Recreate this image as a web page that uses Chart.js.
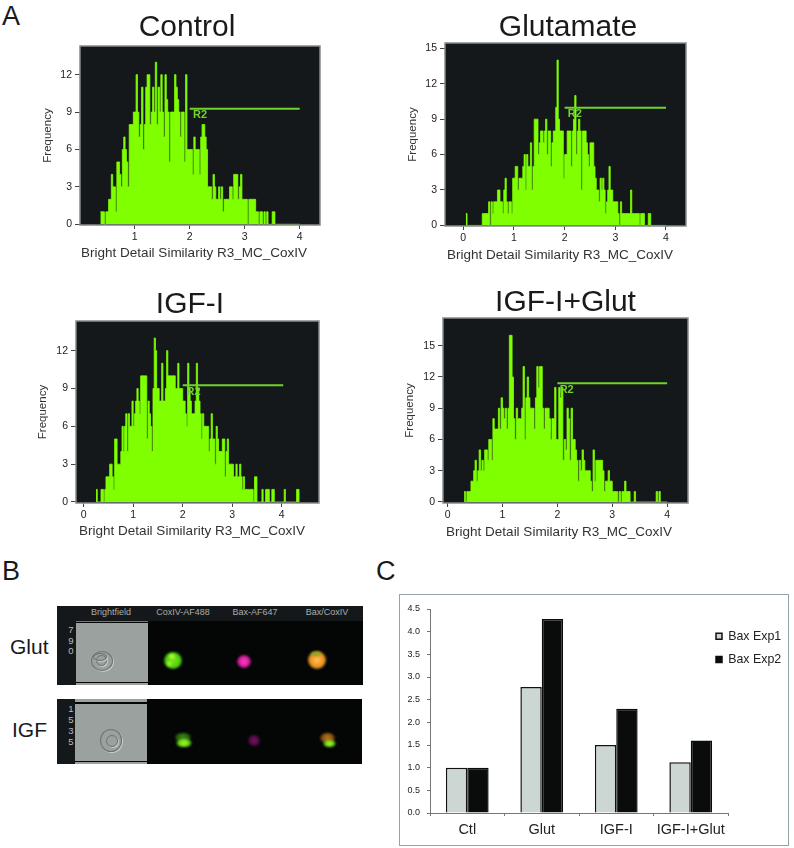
<!DOCTYPE html>
<html>
<head>
<meta charset="utf-8">
<title>Bax figure</title>
<script src="https://cdn.jsdelivr.net/npm/chart.js@4/dist/chart.umd.js"></script>
<style>
    html, body { margin: 0; padding: 0; background: #fff; }
    body { position: relative; width: 794px; height: 848px; overflow: hidden; font-family: "Liberation Sans", Arial, sans-serif; color: #1a1a1a; }
    canvas { position: absolute; }
    .abs { position: absolute; }
    .letter { position: absolute; font-size: 27px; line-height: 30px; }
    .rowLabel { position: absolute; font-size: 21px; line-height: 24px; }
    .strip { position: absolute; background: #040605; }
    .stripHead { position: absolute; background: #15181a; }
    .field { position: absolute; background: #9aa19f; }
    .stain { position: absolute; color: #a9adad; font-size: 9px; line-height: 10px; transform: translateX(-50%); white-space: nowrap; }
    .digit { position: absolute; color: #b9bdbd; font-size: 9.5px; line-height: 10px; transform: translateX(-50%); }
    .spot { position: absolute; border-radius: 50%; filter: blur(1px); }
    .ring { position: absolute; border-radius: 50%; border: 1px solid #6d7472; box-shadow: 1px 1px 0 #c6cbc9; }
    #frameC { position: absolute; left: 399px; top: 594px; width: 388px; height: 250px; border: 1px solid #93a5a8; }
</style>
</head>
<body>

<div class="letter" style="left:2px;top:1px">A</div>
<div class="letter" style="left:2px;top:556px">B</div>
<div class="letter" style="left:376px;top:556px">C</div>

<!-- Panel B, cell images -->
<div class="rowLabel" style="left:10px;top:635px">Glut</div>
<div class="rowLabel" style="left:12px;top:718px">IGF</div>

<div class="strip" style="left:57px;top:606px;width:306px;height:79px"></div>
<div class="stripHead" style="left:57px;top:606px;width:306px;height:15px"></div>
<div class="stripHead" style="left:57px;top:606px;width:19px;height:79px"></div>
<div class="field" style="left:76px;top:623px;width:72px;height:59px"></div>
<div class="abs" style="left:76px;top:621px;width:72px;height:1px;background:#777"></div>
<div class="abs" style="left:76px;top:683px;width:72px;height:2px;background:#9aa19f"></div>
<div class="stain" style="left:111px;top:607px">Brightfield</div>
<div class="stain" style="left:183px;top:607px">CoxIV-AF488</div>
<div class="stain" style="left:255px;top:607px">Bax-AF647</div>
<div class="stain" style="left:327px;top:607px">Bax/CoxIV</div>
<div class="digit" style="left:71px;top:625px">7</div>
<div class="digit" style="left:71px;top:636px">9</div>
<div class="digit" style="left:71px;top:646px">0</div>
<div class="ring" style="left:91px;top:651px;width:20px;height:18px"></div>
<div class="ring" style="left:96px;top:655px;width:9px;height:9px"></div>
<div class="ring" style="left:93px;top:653px;width:12px;height:6px"></div>
<div class="spot" style="left:164px;top:652px;width:18px;height:17px;background:radial-gradient(circle,#7ce818 0,#4fd010 55%,#1c5a08 85%,transparent 100%)"></div>
<div class="spot" style="left:169px;top:654px;width:6px;height:5px;background:#a8f838"></div>
<div class="spot" style="left:167px;top:661px;width:5px;height:5px;background:#98f030"></div>
<div class="spot" style="left:237px;top:655px;width:14px;height:13px;background:radial-gradient(circle,#ff40c0 0,#d81ea0 50%,#5a0c48 85%,transparent 100%)"></div>
<div class="spot" style="left:308px;top:651px;width:18px;height:18px;background:radial-gradient(circle,#ffc850 0,#f08a20 55%,#5a7a10 85%,transparent 100%)"></div>
<div class="spot" style="left:311px;top:652px;width:10px;height:4px;background:#8aa820"></div>

<div class="strip" style="left:57px;top:699px;width:305px;height:65px"></div>
<div class="stripHead" style="left:57px;top:699px;width:18px;height:65px"></div>
<div class="field" style="left:75px;top:699px;width:72px;height:3px"></div>
<div class="field" style="left:75px;top:704px;width:72px;height:57px"></div>
<div class="field" style="left:75px;top:762px;width:72px;height:2px"></div>
<div class="digit" style="left:71px;top:704px">1</div>
<div class="digit" style="left:71px;top:715px">5</div>
<div class="digit" style="left:71px;top:726px">3</div>
<div class="digit" style="left:71px;top:737px">5</div>
<div class="ring" style="left:100px;top:729px;width:20px;height:21px"></div>
<div class="ring" style="left:106px;top:735px;width:10px;height:10px"></div>
<div class="spot" style="left:175px;top:733px;width:16px;height:9px;background:radial-gradient(circle,#3a8a12 0,#255a0c 70%,transparent 100%)"></div>
<div class="spot" style="left:176px;top:739px;width:16px;height:8px;background:radial-gradient(circle,#a0f828 0,#60d012 60%,transparent 100%)"></div>
<div class="spot" style="left:248px;top:735px;width:12px;height:11px;background:radial-gradient(circle,#7a1268 0,#4a0a40 60%,transparent 100%)"></div>
<div class="spot" style="left:320px;top:733px;width:15px;height:10px;background:radial-gradient(circle,#c07818 0,#7a4a10 65%,transparent 100%)"></div>
<div class="spot" style="left:323px;top:740px;width:13px;height:7px;background:radial-gradient(circle,#b0f830 0,#60c812 60%,transparent 100%)"></div>

<div id="frameC"></div>

<canvas id="controlChart"></canvas>
<canvas id="glutamateChart"></canvas>
<canvas id="igfChart"></canvas>
<canvas id="igfGlutChart"></canvas>
<canvas id="baxChart"></canvas>

<script>
let binWidth = 0.025

let controlStart = 0.375
let controlCounts = [1,1,1,0,1,1,2,2,4,3,3,1,5,5,4,3,6,7,6,5,3,8,8,8,9,9,12,9,7,8,11,6,8,11,12,12,8,9,11,9,
    13,8,11,9,12,9,7,12,10,9,5,9,9,9,12,11,10,9,7,9,9,5,12,6,6,6,6,4,7,6,6,6,4,7,8,8,7,6,3,3,
    3,2,4,3,2,2,3,2,3,1,2,2,2,2,3,3,2,4,4,4,2,3,4,2,2,2,2,0,2,2,2,2,2,1,1,0,1,1,0,1,
    0,1,0,0,0,1,1,0,0,0,0,0,0,0,0,0,0,0,0,0,0,0,0,0,0,0]

let glutamateStart = 0.05
let glutamateCounts = [1,0,0,0,0,0,0,0,0,0,0,0,0,1,1,1,1,1,2,0,2,1,2,2,2,3,3,2,2,1,3,4,2,1,2,2,1,4,4,5,
    5,3,4,4,4,5,6,3,6,5,5,7,3,5,9,9,9,6,7,8,8,7,8,9,6,8,8,5,7,8,8,10,14,9,8,8,8,4,6,6,
    8,8,8,5,8,9,11,6,8,9,8,3,8,8,8,7,6,5,7,7,7,5,4,3,3,2,4,3,4,3,1,2,3,5,3,3,2,2,2,2,
    1,0,2,1,1,1,1,1,1,1,3,1,1,1,1,1,1,0,1,1,1,0,0,0,1,1,0,0,0,0,0,0,0,0,0,0,0,0,0]

let igfStart = 0.25
let igfCounts = [1,0,0,0,1,1,0,1,2,2,2,3,3,2,1,5,5,3,3,3,4,6,4,6,7,4,7,6,6,8,6,7,8,9,8,7,10,10,10,10,
    10,5,8,7,6,4,9,13,12,9,9,8,8,11,8,8,9,12,10,10,10,10,10,10,9,9,11,9,9,9,8,8,7,6,11,9,8,7,7,7,
    8,11,9,8,7,5,7,6,6,6,6,4,5,7,5,5,3,6,5,4,4,4,5,5,2,4,5,3,3,3,3,2,2,3,2,2,3,2,1,2,
    1,1,1,1,1,1,1,0,2,2,0,0,0,0,1,0,0,1,1,1,0,0,1,1,0,0,0,0,0,0,0,0,1,0,0,0,0,0,0,0,
    0,0,1,1,0]

let igfGlutStart = 0.3
let igfGlutCounts = [1,0,1,1,1,2,2,3,4,2,3,5,3,4,3,5,5,4,6,6,4,8,7,7,7,9,7,10,9,8,9,7,9,16,16,12,8,6,9,8,
    8,8,9,13,6,10,12,10,9,9,9,7,10,13,11,13,13,9,7,9,9,9,8,6,8,8,11,6,6,11,10,11,4,6,5,9,8,4,9,6,
    6,5,4,2,4,3,5,4,3,3,3,3,2,1,5,2,4,4,4,4,4,3,1,2,2,3,2,2,1,1,1,1,0,1,0,1,1,2,1,1,
    1,0,0,0,1,0,0,0,0,0,0,0,0,0,0,0,0,0,0,0,1,0,1,0,0,0,0,0,0]

//Axis ticks for the four histograms
let controlXTicks = [1, 2, 3, 4]
let fullXTicks = [0, 1, 2, 3, 4]
let controlYTicks = [0, 3, 6, 9, 12]
let glutamateYTicks = [0, 3, 6, 9, 12, 15]
let igfYTicks = [0, 3, 6, 9, 12]
let igfGlutYTicks = [0, 3, 6, 9, 12, 15]

//R2 gate height, [x, y] of its label
let gateFrom = 2
let gateTo = 4
let igfGateTo = 4.03
let controlGate = 9.27
let glutamateGate = 9.97
let igfGate = 9.25
let igfGlutGate = 11.4
let controlGateLabel = [2.19, 8.74]
let glutamateGateLabel = [2.2, 9.43]
let igfGateLabel = [2.22, 8.75]
let igfGlutGateLabel = [2.17, 10.74]

//Bar chart in panel C
let baxCategories = ['Ctl', 'Glut', 'IGF-I', 'IGF-I+Glut']
let baxExp1 = [1.0, 2.78, 1.5, 1.12]
let baxExp2 = [1.0, 4.28, 2.3, 1.6]
let baxSeriesNames = ['Bax Exp1', 'Bax Exp2']

let axisCaption = 'Bright Detail Similarity R3_MC_CoxIV'
let textFont = '"Liberation Sans", Arial, sans-serif'
let textColor = '#222'
let plotGreen = '#7fff00'
let gateGreen = '#6fd32c'

Chart.defaults.font.family = textFont
Chart.defaults.color = textColor
Chart.defaults.animation = false

//Dark plot background, grey frame and the loose texts of a histogram
let histogramPlugin = {
    id: 'histogramPlugin',
    beforeDatasetsDraw(chart, args, opts) {
        let ctx = chart.ctx
        let area = chart.chartArea
        ctx.save()
        ctx.fillStyle = '#15181a'
        ctx.fillRect(area.left, area.top, area.width, area.height)
        ctx.restore()
    },
    afterDraw(chart, args, opts) {
        let ctx = chart.ctx
        let area = chart.chartArea
        ctx.save()
        ctx.strokeStyle = '#858a8b'
        ctx.lineWidth = 1.5
        ctx.strokeRect(area.left, area.top, area.width, area.height)

        ctx.textAlign = 'center'
        ctx.textBaseline = 'alphabetic'
        ctx.fillStyle = '#1a1a1a'
        ctx.font = '30px ' + textFont
        ctx.fillText(opts.title, opts.titleX, opts.titleY)

        ctx.fillStyle = '#333'
        ctx.font = '13.5px ' + textFont
        ctx.fillText(axisCaption, opts.captionX, opts.captionY)

        ctx.fillStyle = gateGreen
        ctx.font = 'bold 11px ' + textFont
        ctx.textBaseline = 'middle'
        ctx.fillText('R2', chart.scales.x.getPixelForValue(opts.gateLabel[0]), chart.scales.y.getPixelForValue(opts.gateLabel[1]))
        ctx.restore()
    }
}

function makeHistogram(id, spec) {
    let canvas = document.getElementById(id)
    canvas.width = spec.right + 20 - spec.canvasLeft
    canvas.height = spec.bottom + 45 - spec.canvasTop
    canvas.style.left = spec.canvasLeft + 'px'
    canvas.style.top = spec.canvasTop + 'px'

    let points = spec.counts.map((count, i) => ({x: spec.start + i * binWidth, y: count}))

    return new Chart(canvas, {
        type: 'line',
        data: {
            datasets: [
                {
                    data: [{x: gateFrom, y: spec.gate}, {x: spec.gateTo, y: spec.gate}],
                    borderColor: gateGreen,
                    borderWidth: 2,
                    pointRadius: 0,
                    fill: false
                },
                {
                    data: points,
                    stepped: true,
                    borderColor: plotGreen,
                    backgroundColor: plotGreen,
                    borderWidth: 0.8,
                    pointRadius: 0,
                    fill: 'origin'
                }
            ]
        },
        plugins: [histogramPlugin],
        options: {
            responsive: false,
            layout: {padding: {left: 0, right: 20, top: spec.top - spec.canvasTop, bottom: 0}},
            plugins: {
                legend: {display: false},
                tooltip: {enabled: false},
                histogramPlugin: {
                    title: spec.title,
                    titleX: spec.titleX - spec.canvasLeft,
                    titleY: spec.titleY - spec.canvasTop,
                    captionX: spec.captionX - spec.canvasLeft,
                    captionY: spec.captionY - spec.canvasTop,
                    gateLabel: spec.gateLabel
                }
            },
            scales: {
                x: {
                    type: 'linear',
                    min: spec.xMin,
                    max: spec.xMax,
                    afterBuildTicks: scale => { scale.ticks = spec.xTicks.map(v => ({value: v})) },
                    afterFit: scale => { scale.height = 45 },
                    grid: {drawOnChartArea: false, tickLength: 4, color: '#444'},
                    border: {display: false},
                    ticks: {font: {size: 10.5}, padding: 2, maxRotation: 0, autoSkip: false}
                },
                y: {
                    min: spec.yMin,
                    max: spec.yMax,
                    afterBuildTicks: scale => { scale.ticks = spec.yTicks.map(v => ({value: v})) },
                    afterFit: scale => { scale.width = spec.left - spec.canvasLeft },
                    grid: {drawOnChartArea: false, tickLength: 5, color: '#444'},
                    border: {display: false},
                    ticks: {font: {size: 10.5}, padding: 3, autoSkip: false},
                    title: {
                        display: true,
                        text: 'Frequency',
                        font: {size: 11.5},
                        color: '#333',
                        padding: {top: spec.freqX - spec.canvasLeft - 7, bottom: 0}
                    }
                }
            }
        }
    })
}

makeHistogram('controlChart', {
    title: 'Control', titleX: 187, titleY: 36, captionX: 194, captionY: 257,
    canvasLeft: 30, canvasTop: 5, left: 80, right: 320, top: 46, bottom: 225, freqX: 48,
    xMin: 0.005, xMax: 4.37, yMin: -0.06, yMax: 14.3,
    xTicks: controlXTicks, yTicks: controlYTicks,
    start: controlStart, counts: controlCounts,
    gate: controlGate, gateTo: gateTo, gateLabel: controlGateLabel
})

makeHistogram('glutamateChart', {
    title: 'Glutamate', titleX: 568, titleY: 36, captionX: 560, captionY: 259,
    canvasLeft: 400, canvasTop: 5, left: 445, right: 686, top: 43, bottom: 226, freqX: 413,
    xMin: -0.36, xMax: 4.395, yMin: -0.05, yMax: 15.45,
    xTicks: fullXTicks, yTicks: glutamateYTicks,
    start: glutamateStart, counts: glutamateCounts,
    gate: glutamateGate, gateTo: gateTo, gateLabel: glutamateGateLabel
})

makeHistogram('igfChart', {
    title: 'IGF-I', titleX: 190, titleY: 313, captionX: 192, captionY: 535,
    canvasLeft: 30, canvasTop: 280, left: 76, right: 319, top: 321, bottom: 503, freqX: 43,
    xMin: -0.155, xMax: 4.753, yMin: -0.08, yMax: 14.35,
    xTicks: fullXTicks, yTicks: igfYTicks,
    start: igfStart, counts: igfCounts,
    gate: igfGate, gateTo: igfGateTo, gateLabel: igfGateLabel
})

makeHistogram('igfGlutChart', {
    title: 'IGF-I+Glut', titleX: 565.5, titleY: 311, captionX: 559, captionY: 536,
    canvasLeft: 400, canvasTop: 280, left: 443, right: 688, top: 318, bottom: 503, freqX: 410,
    xMin: -0.084, xMax: 4.38, yMin: -0.1, yMax: 17.66,
    xTicks: fullXTicks, yTicks: igfGlutYTicks,
    start: igfGlutStart, counts: igfGlutCounts,
    gate: igfGlutGate, gateTo: gateTo, gateLabel: igfGlutGateLabel
})

//Moves the legend over the right end of the plot like in the original
let legendSpot = {
    id: 'legendSpot',
    afterLayout(chart) {
        let legend = chart.legend
        legend.left = 305
        legend.top = 24
        legend.right = 388
        legend.bottom = 90
    }
}

let baxCanvas = document.getElementById('baxChart')
baxCanvas.width = 388
baxCanvas.height = 248
baxCanvas.style.left = '400px'
baxCanvas.style.top = '595px'

let baxChart = new Chart(baxCanvas, {
    type: 'bar',
    data: {
        labels: baxCategories,
        datasets: [
            {
                label: baxSeriesNames[0],
                data: baxExp1,
                backgroundColor: '#ccd6d3',
                borderColor: '#111',
                borderWidth: 1.5,
                categoryPercentage: 0.574,
                barPercentage: 1
            },
            {
                label: baxSeriesNames[1],
                data: baxExp2,
                backgroundColor: '#0a0c0c',
                borderColor: '#0a0c0c',
                borderWidth: 1.5,
                categoryPercentage: 0.574,
                barPercentage: 1
            }
        ]
    },
    plugins: [legendSpot],
    options: {
        responsive: false,
        layout: {padding: {left: 0, right: 60, top: 14, bottom: 0}},
        plugins: {
            tooltip: {enabled: false},
            legend: {
                position: 'chartArea',
                align: 'start',
                labels: {
                    boxWidth: 6,
                    boxHeight: 6,
                    padding: 11,
                    font: {size: 12.4},
                    color: '#222'
                }
            }
        },
        scales: {
            x: {
                afterFit: scale => { scale.height = 30 },
                grid: {drawOnChartArea: false, tickLength: 3, color: '#777'},
                border: {color: '#777'},
                ticks: {font: {size: 14.5}, padding: 5, color: '#222', maxRotation: 0}
            },
            y: {
                min: 0,
                max: 4.5,
                afterFit: scale => { scale.width = 30 },
                grid: {drawOnChartArea: false, tickLength: 3, color: '#777'},
                border: {color: '#777'},
                ticks: {
                    stepSize: 0.5,
                    padding: 7,
                    font: {size: 9},
                    color: '#222',
                    callback: value => value.toFixed(1)
                }
            }
        }
    }
})
</script>
</body>
</html>
